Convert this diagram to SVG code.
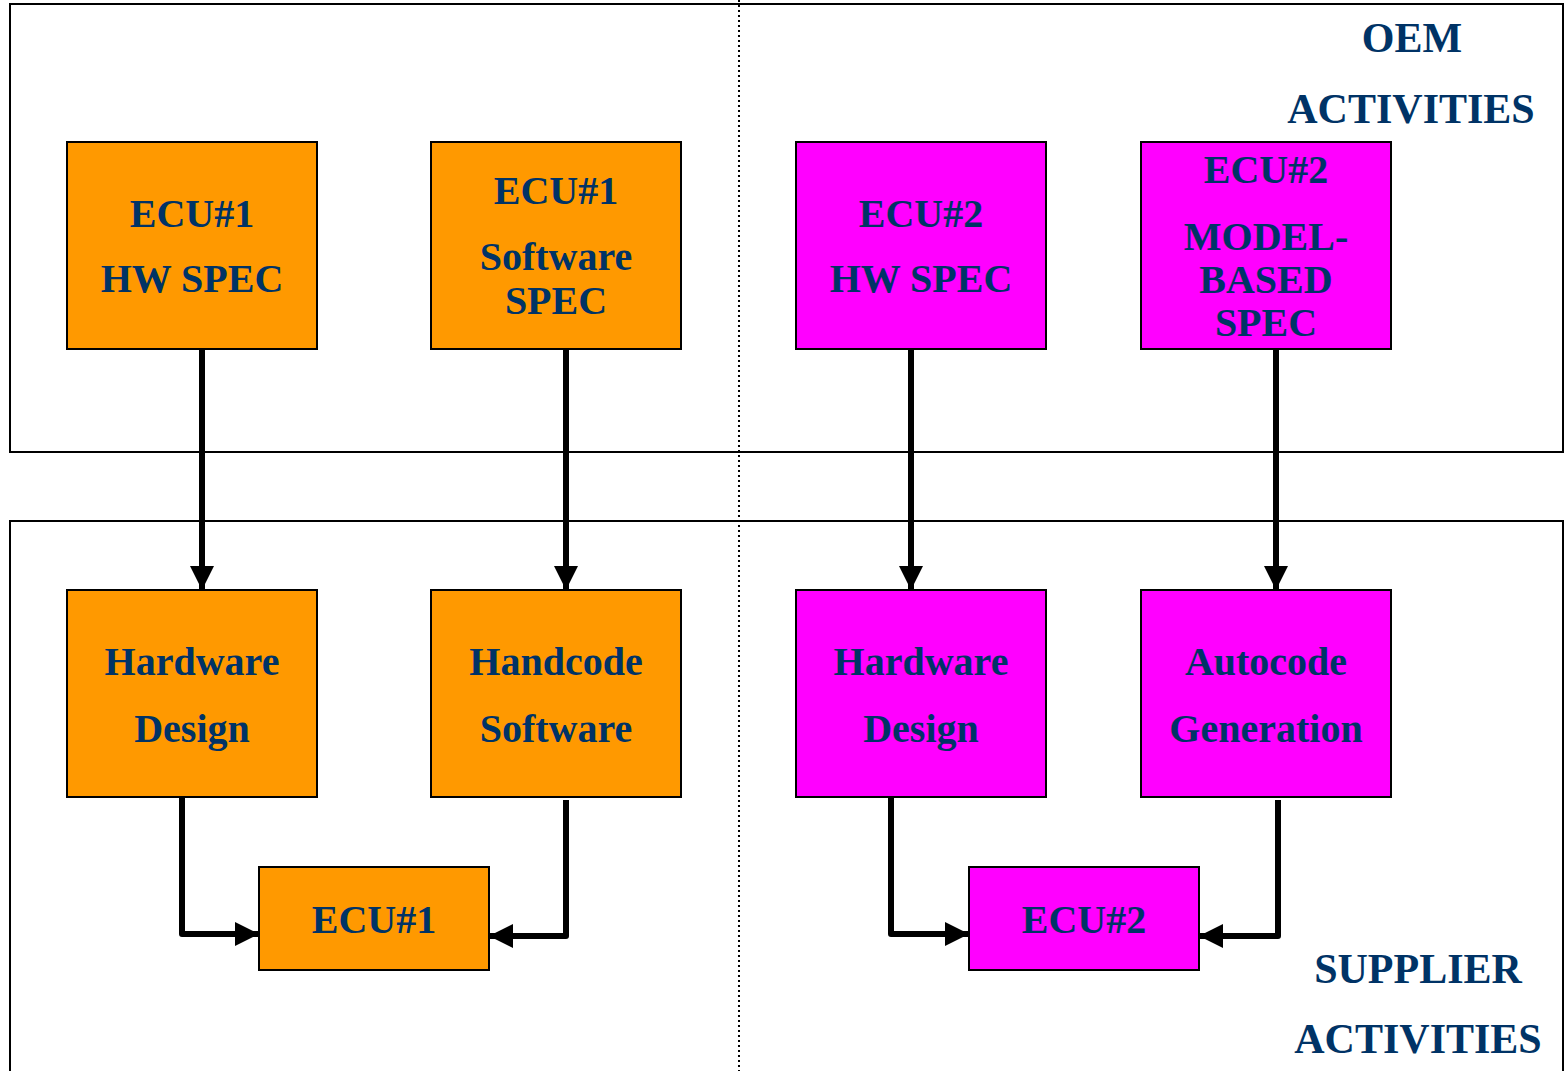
<svg xmlns="http://www.w3.org/2000/svg" width="1568" height="1071" viewBox="0 0 1568 1071">
  <defs>
    <style>
      .panel { fill: none; stroke: #000; stroke-width: 2; }
      .divider { stroke: #000; stroke-width: 2; stroke-dasharray: 2 3; }
      .box { stroke: #000; stroke-width: 2; }
      .ecu1 { fill: #FF9900; }
      .ecu2 { fill: #FF00FF; }
      .lbl { font-family: "Liberation Serif", "Times New Roman", serif; font-weight: bold; font-size: 40px; fill: #003366; text-anchor: middle; }
      .title { font-size: 42px; }
      .flow { fill: none; stroke: #000; stroke-width: 6; stroke-linejoin: round; }
    </style>
    <marker id="head" viewBox="0 0 10 10" refX="10" refY="5" markerWidth="4" markerHeight="4" orient="auto" markerUnits="strokeWidth">
      <path d="M0,0 L10,5 L0,10 Z" fill="#000"/>
    </marker>
  </defs>

  <rect width="1568" height="1071" fill="#fff"/>

  <!-- OEM and supplier areas -->
  <g id="panels">
    <rect class="panel" x="10" y="4" width="1553" height="448"/>
    <path class="panel" d="M10,1075 V521 H1563 V1075"/>
    <line class="divider" x1="739" y1="0" x2="739" y2="1071"/>
    <text class="lbl title" x="1412" y="52">OEM</text>
    <text class="lbl title" x="1411" y="123">ACTIVITIES</text>
    <text class="lbl title" x="1418" y="983">SUPPLIER</text>
    <text class="lbl title" x="1418" y="1053">ACTIVITIES</text>
  </g>

  <!-- connectors -->
  <g id="connectors">
    <line class="flow" x1="202" y1="349" x2="202" y2="590" marker-end="url(#head)"/>
    <line class="flow" x1="566" y1="349" x2="566" y2="590" marker-end="url(#head)"/>
    <line class="flow" x1="911" y1="349" x2="911" y2="590" marker-end="url(#head)"/>
    <line class="flow" x1="1276" y1="349" x2="1276" y2="590" marker-end="url(#head)"/>
    <path class="flow" d="M182,797 V934 H259" marker-end="url(#head)"/>
    <path class="flow" d="M566,800 V936 H489" marker-end="url(#head)"/>
    <path class="flow" d="M891,797 V934 H969" marker-end="url(#head)"/>
    <path class="flow" d="M1278,800 V936 H1199" marker-end="url(#head)"/>
  </g>

  <!-- OEM specifications -->
  <g id="ecu1-hw-spec">
    <rect class="box ecu1" x="67" y="142" width="250" height="207"/>
    <text class="lbl" x="192" y="227">ECU#1</text>
    <text class="lbl" x="192" y="292">HW SPEC</text>
  </g>
  <g id="ecu1-sw-spec">
    <rect class="box ecu1" x="431" y="142" width="250" height="207"/>
    <text class="lbl" x="556" y="204">ECU#1</text>
    <text class="lbl" x="556" y="270">Software</text>
    <text class="lbl" x="556" y="314">SPEC</text>
  </g>
  <g id="ecu2-hw-spec">
    <rect class="box ecu2" x="796" y="142" width="250" height="207"/>
    <text class="lbl" x="921" y="227">ECU#2</text>
    <text class="lbl" x="921" y="292">HW SPEC</text>
  </g>
  <g id="ecu2-model-spec">
    <rect class="box ecu2" x="1141" y="142" width="250" height="207"/>
    <text class="lbl" x="1266" y="183">ECU#2</text>
    <text class="lbl" x="1266" y="250">MODEL-</text>
    <text class="lbl" x="1266" y="293">BASED</text>
    <text class="lbl" x="1266" y="336">SPEC</text>
  </g>

  <!-- supplier activities -->
  <g id="ecu1-hw-design">
    <rect class="box ecu1" x="67" y="590" width="250" height="207"/>
    <text class="lbl" x="192" y="675">Hardware</text>
    <text class="lbl" x="192" y="742">Design</text>
  </g>
  <g id="ecu1-handcode">
    <rect class="box ecu1" x="431" y="590" width="250" height="207"/>
    <text class="lbl" x="556" y="675">Handcode</text>
    <text class="lbl" x="556" y="742">Software</text>
  </g>
  <g id="ecu2-hw-design">
    <rect class="box ecu2" x="796" y="590" width="250" height="207"/>
    <text class="lbl" x="921" y="675">Hardware</text>
    <text class="lbl" x="921" y="742">Design</text>
  </g>
  <g id="ecu2-autocode">
    <rect class="box ecu2" x="1141" y="590" width="250" height="207"/>
    <text class="lbl" x="1266" y="675">Autocode</text>
    <text class="lbl" x="1266" y="742">Generation</text>
  </g>
  <g id="ecu1">
    <rect class="box ecu1" x="259" y="867" width="230" height="103"/>
    <text class="lbl" x="374" y="933">ECU#1</text>
  </g>
  <g id="ecu2">
    <rect class="box ecu2" x="969" y="867" width="230" height="103"/>
    <text class="lbl" x="1084" y="933">ECU#2</text>
  </g>
</svg>
